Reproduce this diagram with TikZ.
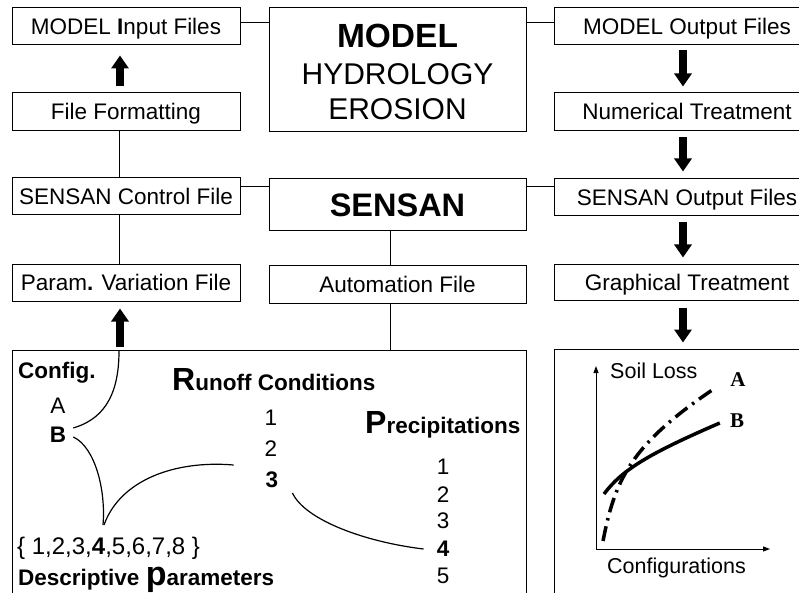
\documentclass[tikz,border=0pt]{standalone}
\usepackage{fontspec}
\setmainfont{Liberation Sans}
\newfontfamily\serifbf{Liberation Serif}
\usetikzlibrary{arrows.meta,calc}
\begin{document}
\begin{tikzpicture}[x=1pt,y=-1pt,
  box/.style={draw,line width=1pt,inner sep=0pt,text height=16pt,text depth=0pt,font=\fontsize{22.5}{26}\selectfont},
  lbox/.style={box,minimum width=228pt,minimum height=37pt},
  mbox/.style={box,minimum width=257pt},
  rbox/.style={box,minimum width=266pt,minimum height=37pt},
  conn/.style={line width=0.8pt},
  bigarrow/.style={line width=7.5pt,-{Triangle[length=13pt,width=17pt]}},
  curv/.style={line width=1.2pt},
  lbl/.style={inner sep=0pt,font=\fontsize{22.5}{26}\selectfont},
  axis/.style={line width=1pt,-{Triangle[length=7pt,width=5pt]}},
]
\useasboundingbox (0,0) rectangle (799,593);
\clip (0,0) rectangle (799,593);

% left column
\node[lbox] (inp) at (126,26.5) {MODEL \textbf{I}nput Files};
\node[lbox,minimum height=38pt] (ff) at (126,112) {File Formatting};
\node[lbox] (sc) at (126,196.5) {SENSAN Control File};
\node[lbox] (pv) at (126,282.5) {Param\textbf{.} Variation File};

% middle column
\node[mbox,minimum height=124pt] (model) at (397.5,70) {};
\node[inner sep=0pt,font=\fontsize{33.5}{36}\selectfont\bfseries] (tmodel) at (397.5,36) {MODEL};
\node[inner sep=0pt,font=\fontsize{30}{34}\selectfont] (thyd) at (397.5,74) {HYDROLOGY};
\node[inner sep=0pt,font=\fontsize{30}{34}\selectfont] (tero) at (397.5,109) {EROSION};
\node[mbox,minimum height=52pt,text height=23.3pt,font=\fontsize{32.5}{36}\selectfont\bfseries] (sensan) at (397.5,205) {SENSAN};
\node[mbox,minimum height=38pt] (auto) at (397.5,284) {Automation File};

% right column
\node[rbox] (out) at (687,26.5) {MODEL Output Files};
\node[rbox,minimum height=38pt] (num) at (687,112) {Numerical Treatment};
\node[rbox] (so) at (687,197.5) {SENSAN Output Files};
\node[rbox,minimum height=36pt] (gt) at (687,282) {Graphical Treatment};

% bottom panels
\node[draw,line width=1pt,inner sep=0pt,minimum width=514pt,minimum height=270pt] (panel) at (269,485) {};
\node[draw,line width=1pt,inner sep=0pt,minimum width=266pt,minimum height=270pt] (graph) at (687,484) {};

% thin connectors
\coordinate (ya) at (0,22);
\coordinate (yb) at (0,186);
\coordinate (autob) at ($(auto.south)+(-7.5,0)$);
\draw[conn] (inp.east |- ya) -- (model.west |- ya);
\draw[conn] (model.east |- ya) -- (out.west |- ya);
\draw[conn] (sc.east |- yb) -- (sensan.west |- yb);
\draw[conn] (sensan.east |- yb) -- (so.west |- yb);
\draw[conn] ($(ff.south)+(-7,0)$) -- ($(sc.north)+(-7,0)$);
\draw[conn] ($(sc.south)+(-7,0)$) -- ($(pv.north)+(-7,0)$);
\draw[conn] ($(sensan.south)+(-7.5,0)$) -- ($(auto.north)+(-7.5,0)$);
\draw[conn] (autob) -- (autob |- panel.north);

% thick arrows
\draw[bigarrow] ($(ff.north)+(-6,-6)$) -- ($(inp.south)+(-6,10)$);
\draw[bigarrow] ($(panel.north -| pv.south)+(-6,-3)$) -- ($(pv.south)+(-6,7)$);
\draw[bigarrow] ($(out.south)+(-4,5)$) -- ($(num.north)+(-4,-6)$);
\draw[bigarrow] ($(num.south)+(-4,6)$) -- ($(so.north)+(-4,-7)$);
\draw[bigarrow] ($(so.south)+(-4,6)$) -- ($(gt.north)+(-4,-6)$);
\draw[bigarrow] ($(gt.south)+(-4,7)$) -- ($(graph.north)+(-4,-6)$);

% bottom-left content
\node[lbl,anchor=base west] (config) at (18,378) {\bfseries Config.};
\node[lbl] (A) at (58,406) {A};
\node[lbl] (B) at (58,435) {\bfseries B};
\node[lbl,anchor=base west] (runoff) at (172,390) {\bfseries{\fontsize{32}{36}\selectfont R}unoff Conditions};
\node[lbl] (r1) at (271,418) {1};
\node[lbl] (r2) at (271,449) {2};
\node[lbl] (r3) at (272,480) {\bfseries 3};
\node[lbl,anchor=base west] (precip) at (365,433) {\bfseries{\fontsize{32}{36}\selectfont P}recipitations};
\node[lbl] (p1) at (443,467) {1};
\node[lbl] (p2) at (443,495) {2};
\node[lbl] (p3) at (443,521) {3};
\node[lbl] (p4) at (443,549) {\bfseries 4};
\node[lbl] (p5) at (443,576) {5};
\node[lbl,anchor=base west,font=\fontsize{24}{26}\selectfont] (set) at (17,554) {\{ 1,2,3,\textbf{4},5,6,7,8 \}};
\node[lbl,anchor=base west] (desc) at (18,585) {\bfseries Descriptive \smash{\fontsize{34}{36}\selectfont p}arameters};

\draw[curv] (119,351) .. controls (119,400) and (100,420) .. ($(B.east)+(7,-7)$);
\draw[curv] ($(B.east)+(7,2)$) .. controls (95,447) and (106,490) .. (103,525);
\draw[curv] (104,525) .. controls (120,480) and (175,460) .. ($(r2.west)+(-31,16)$);
\draw[curv] ($(r3.east)+(14,13)$) .. controls (305,520) and (365,542) .. ($(p4.west)+(-13,0)$);

% graph
\coordinate (O) at (596,549);
\draw[axis] (O) -- (596,366);
\draw[axis] (O) -- (770,549);
\node[inner sep=0pt,anchor=base west,font=\fontsize{21.5}{25}\selectfont] (soil) at (610,378) {Soil Loss};
\node[inner sep=0pt,anchor=base west,font=\fontsize{21.5}{25}\selectfont] (conf) at (607,573) {Configurations};
\node[inner sep=0pt,font=\fontsize{21}{25}\selectfont\serifbf\bfseries] (gA) at (738,380) {A};
\node[inner sep=0pt,font=\fontsize{21}{25}\selectfont\serifbf\bfseries] (gB) at (737,421) {B};
\draw[line width=3.5pt] (604,494) .. controls (622,470) and (648,454) .. ($(gB.west)+(-10,2)$);
\draw[line width=3.5pt,dash pattern=on 15pt off 6pt on 2.5pt off 6pt] (603,541) .. controls (615,480) and (630,445) .. ($(gA.west)+(-15,8)$);
\end{tikzpicture}
\end{document}
